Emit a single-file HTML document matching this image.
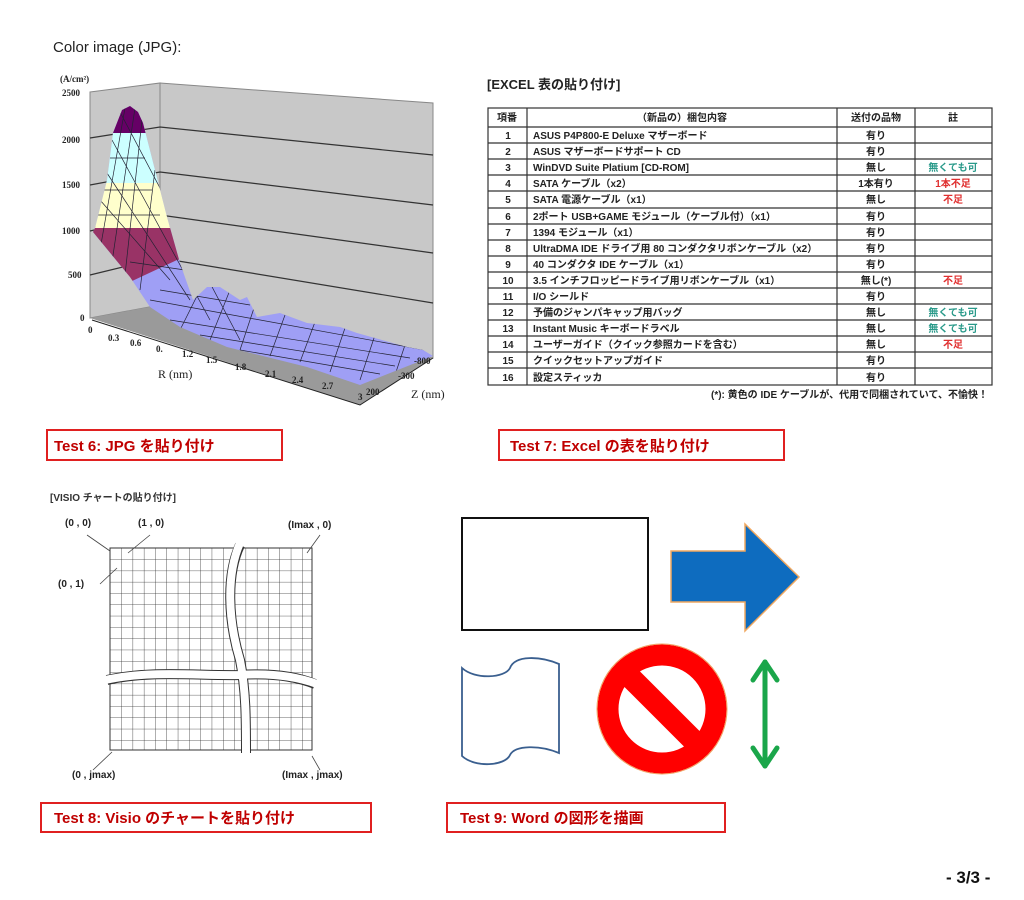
<!DOCTYPE html>
<html><head><meta charset="utf-8"><style>
body{margin:0;background:#fff}
svg{display:block}
.t{font-family:"Liberation Sans","Noto Sans CJK JP",sans-serif}
.s{font-family:"Liberation Serif","Noto Serif CJK SC",serif;font-weight:bold}
</style></head><body>
<svg width="1024" height="900" viewBox="0 0 1024 900" xmlns="http://www.w3.org/2000/svg">
<text x="53" y="52" class="t" font-size="15" fill="#222">Color image (JPG):</text>

<!-- 3D chart -->
<polygon points="90,92 160,83 160,305 90,318" fill="#c8c8c8" stroke="#888"/>
<polygon points="160,83 433,103 433,358 160,305" fill="#c8c8c8" stroke="#888"/>
<polygon points="90,318 160,305 433,358 360,405" fill="#9a9a9a"/>
<g stroke="#333" stroke-width="1.2" fill="none">
<polyline points="90,138 160,127 433,155"/>
<polyline points="90,185 160,172 433,205"/>
<polyline points="90,231 160,215 433,253"/>
<polyline points="90,275 160,258 433,303"/>
</g>
<defs><clipPath id="surf"><polygon points="93,232 95,228 107,180 113,133 122,110 130,106 138,112 143,123 155,170 167,217 180,263 193,300 207,287 220,287 240,300 247,297 257,317 280,313 307,323 340,327 357,333 407,347 423,350 433,356 360,385 307,367 227,347 180,327 150,307 130,277"/></clipPath></defs>
<g clip-path="url(#surf)">
<rect x="80" y="80" width="360" height="340" fill="#9f9ff5"/>
<polygon points="80,226 200,226 200,255 177,260 130,282 80,282" fill="#993366"/>
<rect x="80" y="183" width="200" height="45" fill="#ffffcc"/>
<rect x="80" y="133" width="200" height="50" fill="#ccffff"/>
<rect x="80" y="80" width="200" height="53" fill="#660066"/>
<g stroke="#223" stroke-width=".7" fill="none">
<path d="M100,250 L125,108 M112,262 L135,108 M125,275 L142,120 M140,290 L155,170 M100,200 L170,280 M105,170 L190,300 M112,140 L210,320 M120,112 L240,340 M200,290 L180,330 M230,290 L210,340 M255,305 L240,350 M285,315 L270,356 M315,322 L300,362 M345,328 L330,372 M375,335 L360,380 M405,345 L395,375 M150,300 L425,350 M170,320 L410,358 M200,335 L395,366 M240,350 L380,374 M160,290 L250,305 M130,262 L185,270 M98,215 L160,215 M104,190 L152,190 M110,158 L145,158"/>
</g>
</g>
<g class="s" font-size="9" fill="#222">
<text x="60" y="82">(A/cm²)</text>
<text x="62" y="96">2500</text><text x="62" y="143">2000</text><text x="62" y="188">1500</text>
<text x="62" y="234">1000</text><text x="68" y="278">500</text><text x="80" y="321">0</text>
<text x="88" y="333">0</text><text x="108" y="341">0.3</text><text x="130" y="346">0.6</text>
<text x="156" y="352">0.</text><text x="182" y="357">1.2</text><text x="206" y="363">1.5</text>
<text x="235" y="370">1.8</text><text x="265" y="377">2.1</text><text x="292" y="383">2.4</text>
<text x="322" y="389">2.7</text><text x="358" y="400">3</text>
<text x="366" y="395">200</text><text x="398" y="379">-300</text><text x="414" y="364">-800</text>
<text x="158" y="378" font-size="12" font-weight="normal">R (nm)</text>
<text x="411" y="398" font-size="12" font-weight="normal">Z (nm)</text>
</g>
<polyline points="92,320 360,405 433,358" stroke="#222" fill="none"/>

<!-- Excel table -->
<text x="487" y="89" class="t" font-size="13" font-weight="bold" fill="#222">[EXCEL 表の貼り付け]</text>
<g stroke="#333" stroke-width="1.2" fill="none">
<rect x="488" y="108" width="504" height="277"/>
<line x1="527" y1="108" x2="527" y2="385"/><line x1="837" y1="108" x2="837" y2="385"/><line x1="915" y1="108" x2="915" y2="385"/>
<line x1="488" y1="127" x2="992" y2="127"/>
<line x1="488" y1="143" x2="992" y2="143"/><line x1="488" y1="159" x2="992" y2="159"/><line x1="488" y1="175" x2="992" y2="175"/>
<line x1="488" y1="191" x2="992" y2="191"/><line x1="488" y1="208" x2="992" y2="208"/><line x1="488" y1="224" x2="992" y2="224"/>
<line x1="488" y1="240" x2="992" y2="240"/><line x1="488" y1="256" x2="992" y2="256"/><line x1="488" y1="272" x2="992" y2="272"/>
<line x1="488" y1="288" x2="992" y2="288"/><line x1="488" y1="304" x2="992" y2="304"/><line x1="488" y1="320" x2="992" y2="320"/>
<line x1="488" y1="336" x2="992" y2="336"/><line x1="488" y1="352" x2="992" y2="352"/><line x1="488" y1="368" x2="992" y2="368"/>
</g>
<g class="t" font-size="10" font-weight="bold" fill="#222">
<text x="507" y="121" text-anchor="middle">項番</text><text x="682" y="121" text-anchor="middle">（新品の）梱包内容</text>
<text x="876" y="121" text-anchor="middle">送付の品物</text><text x="953" y="121" text-anchor="middle">註</text>
<g text-anchor="middle">
<text x="508" y="139">1</text><text x="508" y="155">2</text><text x="508" y="171">3</text><text x="508" y="187">4</text>
<text x="508" y="203">5</text><text x="508" y="220">6</text><text x="508" y="236">7</text><text x="508" y="252">8</text>
<text x="508" y="268">9</text><text x="508" y="284">10</text><text x="508" y="300">11</text><text x="508" y="316">12</text>
<text x="508" y="332">13</text><text x="508" y="348">14</text><text x="508" y="364">15</text><text x="508" y="381">16</text>
<text x="876" y="139">有り</text><text x="876" y="155">有り</text><text x="876" y="171">無し</text><text x="876" y="187">1本有り</text>
<text x="876" y="203">無し</text><text x="876" y="220">有り</text><text x="876" y="236">有り</text><text x="876" y="252">有り</text>
<text x="876" y="268">有り</text><text x="876" y="284">無し(*)</text><text x="876" y="300">有り</text><text x="876" y="316">無し</text>
<text x="876" y="332">無し</text><text x="876" y="348">無し</text><text x="876" y="364">有り</text><text x="876" y="381">有り</text>
<text x="953" y="171" fill="#2a9a8a">無くても可</text><text x="953" y="187" fill="#e03030">1本不足</text>
<text x="953" y="203" fill="#e03030">不足</text><text x="953" y="284" fill="#e03030">不足</text>
<text x="953" y="316" fill="#2a9a8a">無くても可</text><text x="953" y="332" fill="#2a9a8a">無くても可</text>
<text x="953" y="348" fill="#e03030">不足</text>
</g>
<text x="533" y="139">ASUS P4P800-E Deluxe マザーボード</text>
<text x="533" y="155">ASUS マザーボードサポート CD</text>
<text x="533" y="171">WinDVD Suite Platium [CD-ROM]</text>
<text x="533" y="187">SATA ケーブル（x2）</text>
<text x="533" y="203">SATA 電源ケーブル（x1）</text>
<text x="533" y="220">2ポート USB+GAME モジュール（ケーブル付）（x1）</text>
<text x="533" y="236">1394 モジュール（x1）</text>
<text x="533" y="252">UltraDMA IDE ドライブ用 80 コンダクタリボンケーブル（x2）</text>
<text x="533" y="268">40 コンダクタ IDE ケーブル（x1）</text>
<text x="533" y="284">3.5 インチフロッピードライブ用リボンケーブル（x1）</text>
<text x="533" y="300">I/O シールド</text>
<text x="533" y="316">予備のジャンパキャップ用バッグ</text>
<text x="533" y="332">Instant Music キーボードラベル</text>
<text x="533" y="348">ユーザーガイド（クイック参照カードを含む）</text>
<text x="533" y="364">クイックセットアップガイド</text>
<text x="533" y="381">設定スティッカ</text>
<text x="988" y="398" text-anchor="end">(*): 黄色の IDE ケーブルが、代用で同梱されていて、不愉快！</text>
</g>

<!-- red labels -->
<g class="t" font-size="15" font-weight="bold" fill="#c00000">
<rect x="47" y="430" width="235" height="30" fill="none" stroke="#e02020" stroke-width="2"/>
<text x="54" y="451">Test 6:  JPG を貼り付け</text>
<rect x="499" y="430" width="285" height="30" fill="none" stroke="#e02020" stroke-width="2"/>
<text x="510" y="451">Test 7: Excel の表を貼り付け</text>
<rect x="41" y="803" width="330" height="29" fill="none" stroke="#e02020" stroke-width="2"/>
<text x="54" y="823">Test 8: Visio のチャートを貼り付け</text>
<rect x="447" y="803" width="278" height="29" fill="none" stroke="#e02020" stroke-width="2"/>
<text x="460" y="823">Test 9: Word の図形を描画</text>
</g>

<!-- Visio -->
<text x="50" y="501" class="t" font-size="10" font-weight="bold" fill="#333">[VISIO チャートの貼り付け]</text>
<defs><pattern id="grid" x="110" y="548" width="11.3" height="11.3" patternUnits="userSpaceOnUse">
<path d="M0,0 H11.3 M0,0 V11.3" stroke="#333" stroke-width=".8" fill="none"/></pattern></defs>
<rect x="110" y="548" width="202" height="202" fill="url(#grid)" stroke="#333"/>
<g fill="none">
<path d="M240,545 C226,575 228,620 240,660 C246,690 246,720 246,753" stroke="#333" stroke-width="10"/>
<path d="M107,680 C150,670 200,676 240,675 C270,673 295,676 315,684" stroke="#333" stroke-width="10"/>
<path d="M240,543 C226,575 228,620 240,660 C246,690 246,720 246,755" stroke="#fff" stroke-width="8"/>
<path d="M105,680 C150,670 200,676 240,675 C270,673 295,676 317,684" stroke="#fff" stroke-width="8"/>
</g>
<g stroke="#444" stroke-width=".8">
<line x1="87" y1="535" x2="110" y2="551"/><line x1="150" y1="535" x2="128" y2="553"/>
<line x1="320" y1="535" x2="307" y2="553"/><line x1="100" y1="584" x2="117" y2="568"/>
<line x1="93" y1="770" x2="112" y2="752"/><line x1="320" y1="770" x2="312" y2="756"/>
</g>
<g class="t" font-size="10" font-weight="bold" fill="#222">
<text x="65" y="526">(0 , 0)</text><text x="138" y="526">(1 , 0)</text><text x="288" y="528">(Imax , 0)</text>
<text x="58" y="587">(0 , 1)</text><text x="72" y="778">(0 , jmax)</text><text x="282" y="778">(Imax , jmax)</text>
</g>

<!-- Word shapes -->
<rect x="462" y="518" width="186" height="112" fill="#fff" stroke="#111" stroke-width="2"/>
<polygon points="671,551 745,551 745,524 799,577 745,631 745,602 671,602" fill="#0e6cbf" stroke="#f0a860" stroke-width="1.5"/>
<path d="M462,668 C475,680 505,678 510,668 C515,655 540,656 559,664 L559,753 C540,745 515,745 510,755 C505,766 475,768 462,756 Z" fill="#fff" stroke="#3a5f8f" stroke-width="1.8"/>
<circle cx="662" cy="709" r="54" fill="none" stroke="#ff0000" stroke-width="21"/>
<circle cx="662" cy="709" r="65" fill="none" stroke="#f0a060" stroke-width="1"/>
<line x1="628" y1="675" x2="696" y2="743" stroke="#ff0000" stroke-width="22"/>
<g stroke="#1aa64a" stroke-width="5" fill="none" stroke-linecap="round" stroke-linejoin="round">
<line x1="765" y1="662" x2="765" y2="766"/>
<polyline points="753,680 765,662 777,680"/><polyline points="753,748 765,766 777,748"/>
</g>

<text x="946" y="883" class="t" font-size="17" font-weight="bold" fill="#111">- 3/3 -</text>
</svg>
</body></html>
